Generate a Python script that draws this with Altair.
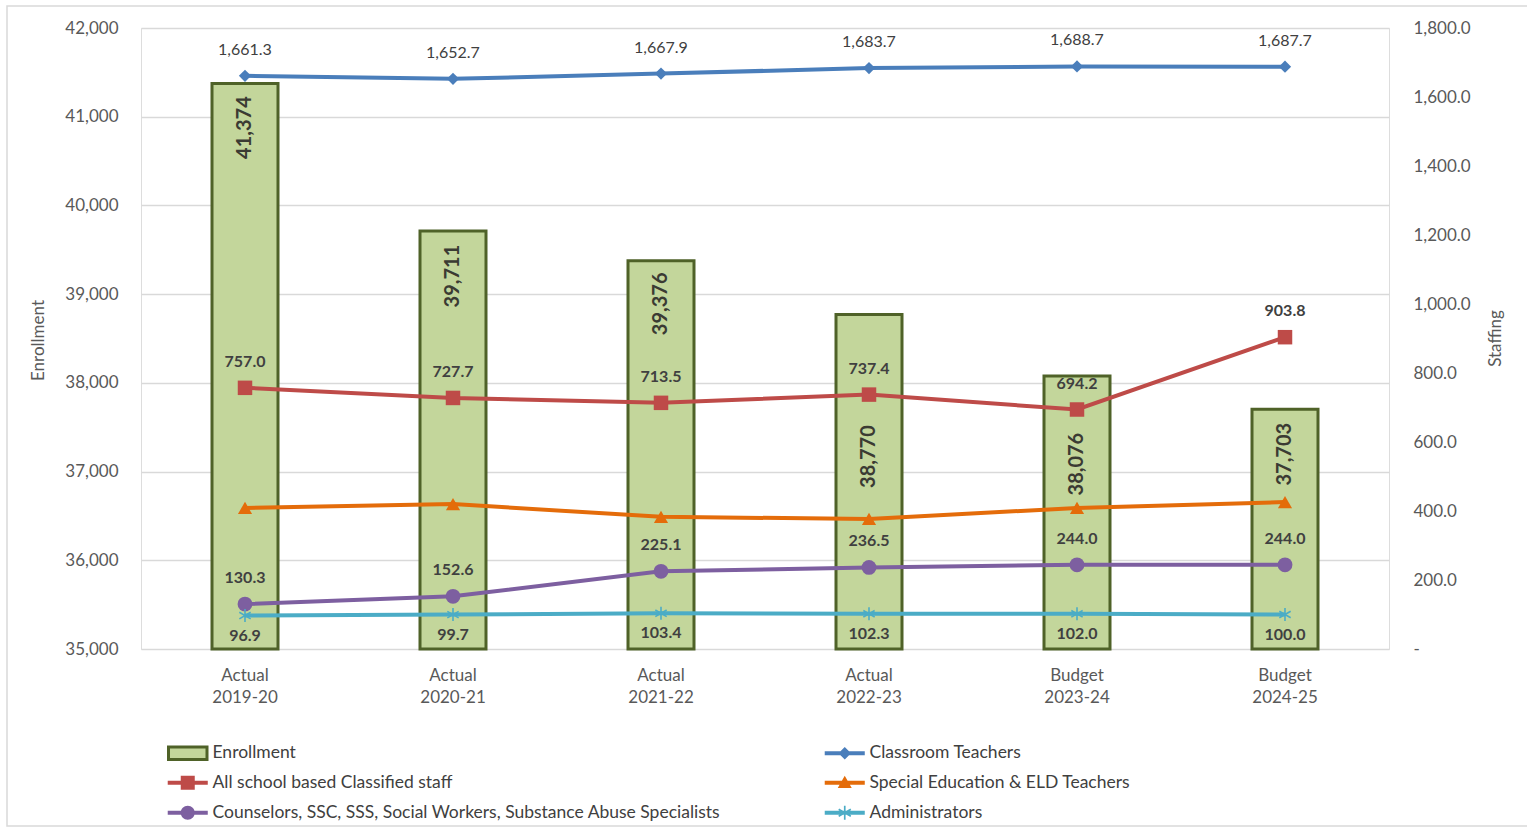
import math
import altair as alt
import pandas as pd

# ---- values -------------------------------------------------------------
categories = ["Actual 2019-20", "Actual 2020-21", "Actual 2021-22",
              "Actual 2022-23", "Budget 2023-24", "Budget 2024-25"]
enrollment = [41374, 39711, 39376, 38770, 38076, 37703]
classroom_teachers = [1661.3, 1652.7, 1667.9, 1683.7, 1688.7, 1687.7]
classified_staff = [757.0, 727.7, 713.5, 737.4, 694.2, 903.8]
special_ed_teachers = [409, 420, 383, 377, 409, 426]
counselors = [130.3, 152.6, 225.1, 236.5, 244.0, 244.0]
administrators = [96.9, 99.7, 103.4, 102.3, 102.0, 100.0]

ENROLL_MIN, ENROLL_MAX = 35000, 42000
STAFF_MIN, STAFF_MAX = 0, 1800

# vertical placement (px below bar top) of each enrollment label
enroll_label_offset = [44, 45, 43, 142, 88, 45]

# ---- styling --------------------------------------------------------------
FONT = "Lato"
AXIS_GRAY = "#595959"
LABEL_DARK = "#404040"
GRID = "#d9d9d9"
BAR_FILL = "#c3d69b"
BAR_EDGE = "#4f6228"


def rect_path(x0, y0, x1, y1):
    return f"M{x0},{y0}L{x1},{y0}L{x1},{y1}L{x0},{y1}Z"


def asterisk_fill(r=1.0, t=0.12):
    parts = []
    for ang in (90, 30, -30):
        a = math.radians(ang)
        c, s = math.cos(a), math.sin(a)
        pts = [(-r, -t), (r, -t), (r, t), (-r, t)]
        rot = [(x * c - y * s, x * s + y * c) for x, y in pts]
        parts.append("M" + "L".join(f"{x:.3f},{y:.3f}" for x, y in rot) + "Z")
    return "".join(parts)


LINE_SEG = rect_path(-2.86, -0.28, 2.86, 0.28)
DIAMOND = "M0,-0.9L0.9,0L0,0.9L-0.9,0Z"
SQUARE = rect_path(-1, -1, 1, 1)
TRIANGLE = "M0,-1L1,0.75L-1,0.75Z"
CIRCLE = "M-1,0A1,1 0 1,1 1,0A1,1 0 1,1 -1,0Z"
ASTERISK_STROKE = "M0,-1L0,1M-0.87,-0.5L0.87,0.5M-0.87,0.5L0.87,-0.5"

CLASSROOM = "Classroom Teachers"
CLASSIFIED = "All school based Classified staff"
SPECIAL_ED = "Special Education & ELD Teachers"
COUNSELORS = "Counselors, SSC, SSS, Social Workers, Substance Abuse Specialists"
ADMINS = "Administrators"

series = [
    # name, values, color, plot marker, marker size, legend glyph, label dy, weight
    (CLASSROOM, classroom_teachers, "#4a7ebb", "diamond", 150,
     LINE_SEG + DIAMOND, -26, "normal"),
    (CLASSIFIED, classified_staff, "#be4b48", "square", 210,
     LINE_SEG + SQUARE, -26, "bold"),
    (SPECIAL_ED, special_ed_teachers, "#e46c0a", "triangle-up", 200,
     LINE_SEG + TRIANGLE, None, "bold"),
    (COUNSELORS, counselors, "#7d5fa0", "circle", 220,
     LINE_SEG + CIRCLE, -26, "bold"),
    (ADMINS, administrators, "#4bacc6", ASTERISK_STROKE, 170,
     LINE_SEG + asterisk_fill(), 20, "bold"),
]
style = {s[0]: s for s in series}

W, H = 1248, 621

x_enc = alt.X(
    "category:N",
    sort=categories,
    scale=alt.Scale(domain=categories, paddingInner=0, paddingOuter=0),
    axis=alt.Axis(
        title=None, labelAngle=0, domain=False, ticks=False,
        labelExpr="split(datum.value, ' ')", labelLineHeight=22,
        labelFontSize=17, labelColor=AXIS_GRAY, labelPadding=18,
        labelFont=FONT,
    ),
)

left_axis = alt.Axis(
    title="Enrollment", format=",d", values=list(range(ENROLL_MIN, ENROLL_MAX + 1, 1000)),
    domain=False, ticks=False, grid=True, gridColor=GRID, gridWidth=1.3,
    labelFontSize=17, labelColor=AXIS_GRAY, labelPadding=23, labelFont=FONT,
    titleFontSize=17, titleFontWeight="normal", titleColor=AXIS_GRAY,
    titleAngle=270, titleX=-103, titleY=312, titleAlign="center",
    titleBaseline="middle", titleFont=FONT,
)

right_axis = alt.Axis(
    title="Staffing", orient="right", values=list(range(STAFF_MIN, STAFF_MAX + 1, 200)),
    labelExpr="datum.value == 0 ? '-' : format(datum.value, ',.1f')",
    domain=False, ticks=False, grid=False,
    labelFontSize=17, labelColor=AXIS_GRAY, labelPadding=24, labelFont=FONT,
    titleFontSize=17, titleFontWeight="normal", titleColor=AXIS_GRAY,
    titleAngle=270, titleX=106, titleY=310, titleAlign="center",
    titleBaseline="middle", titleFont=FONT,
)

enroll_df = pd.DataFrame({
    "category": categories,
    "enrollment": enrollment,
})

y_left = alt.Y("enrollment:Q",
               scale=alt.Scale(domain=[ENROLL_MIN, ENROLL_MAX], nice=False, zero=False),
               axis=left_axis)

bars = alt.Chart(enroll_df).mark_bar(
    size=66, fill=BAR_FILL, stroke=BAR_EDGE, strokeWidth=3
).encode(x=x_enc, y=y_left, y2=alt.datum(ENROLL_MIN))

# rotated enrollment labels; dx runs along the rotated text, so a negative
# dx moves the label down the bar
enroll_label_layers = []
for cat, off in zip(categories, enroll_label_offset):
    enroll_label_layers.append(
        alt.Chart(enroll_df).transform_filter(alt.datum.category == cat).mark_text(
            angle=270, align="center", baseline="middle", font=FONT, dx=-off,
            fontSize=20, fontWeight="bold", color="#3b3b33",
        ).encode(x=x_enc, y=y_left, text=alt.Text("enrollment:Q", format=","))
    )

left_layer = alt.layer(bars, *enroll_label_layers)

# ---- staffing lines -------------------------------------------------------
y_right_scale = alt.Scale(domain=[STAFF_MIN, STAFF_MAX], nice=False)
right_layers = []
for name, vals, color, marker, msize, _glyph, dy, weight in series:
    df = pd.DataFrame({"category": categories, "staff": vals, "series": name})
    y_r = alt.Y("staff:Q", scale=y_right_scale, axis=right_axis)
    base = alt.Chart(df).encode(x=x_enc, y=y_r)
    right_layers.append(base.mark_line(color=color, strokeWidth=4))
    if marker.startswith("M"):
        pts = base.mark_point(shape=marker, size=msize, filled=False, color=color,
                              strokeWidth=1.6, opacity=1)
    else:
        pts = base.mark_point(shape=marker, size=msize, filled=True, color=color, opacity=1)
    right_layers.append(pts)
    if dy is not None:
        right_layers.append(base.mark_text(
            dy=dy, font=FONT, fontSize=16, fontWeight=weight, color=LABEL_DARK,
            baseline="middle",
        ).encode(text=alt.Text("staff:Q", format=",.1f")))

# ---- legend (two columns, filled column by column) --------------------------
legend_names = ["Enrollment", CLASSIFIED, COUNSELORS, CLASSROOM, SPECIAL_ED, ADMINS]
legend_fill = [BAR_FILL] + [style[n][2] for n in legend_names[1:]]
legend_stroke = [BAR_EDGE] + ["transparent"] * (len(legend_names) - 1)
legend_shape = [rect_path(-2.75, -0.9, 2.75, 0.9)] + [style[n][5] for n in legend_names[1:]]

legend_def = alt.Legend(
    title=None, orient="none", legendX=38, legendY=716, columns=2,
    columnPadding=97, rowPadding=3, symbolSize=196, symbolStrokeWidth=3,
    labelOffset=16, labelFontSize=17.5, labelColor=LABEL_DARK, labelFont=FONT,
    labelLimit=800, symbolOpacity=1,
)
legend_df = pd.DataFrame({"series": legend_names})
legend_layer = alt.Chart(legend_df).transform_filter("false").mark_point(filled=True).encode(
    fill=alt.Fill("series:N", scale=alt.Scale(domain=legend_names, range=legend_fill),
                  sort=legend_names, legend=legend_def),
    stroke=alt.Stroke("series:N", scale=alt.Scale(domain=legend_names, range=legend_stroke),
                      sort=legend_names, legend=legend_def),
    shape=alt.Shape("series:N", scale=alt.Scale(domain=legend_names, range=legend_shape),
                    sort=legend_names, legend=legend_def),
)

# light frame around the whole figure
frame = alt.Chart(pd.DataFrame({"k": [0]})).mark_rect(
    fill=None, stroke=GRID, strokeWidth=1.5, clip=False
).encode(x=alt.value(-134), x2=alt.value(1400), y=alt.value(-22), y2=alt.value(798))

right_layer = alt.layer(*right_layers)

chart = alt.layer(left_layer, right_layer, legend_layer, frame).resolve_scale(
    y="independent"
).properties(
    width=W, height=H,
    autosize=alt.AutoSizeParams(type="none"),
    padding={"left": 141, "top": 28, "right": 138, "bottom": 184},
).configure_view(stroke=None).configure(background="white", font=FONT)

chart.save("out.html", embed_options={"renderer": "svg", "actions": False})
